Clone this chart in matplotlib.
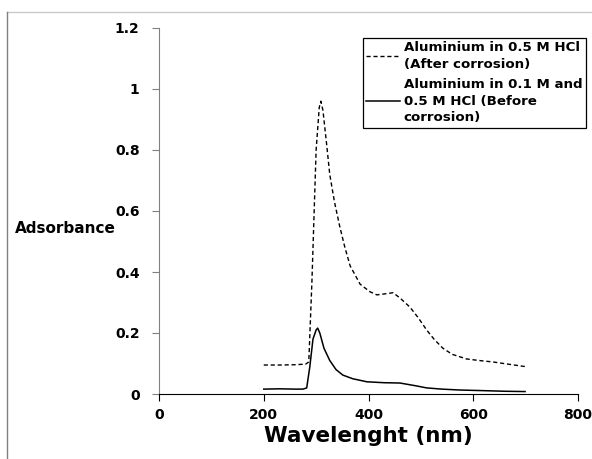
import matplotlib
matplotlib.use("Agg")
import matplotlib.pyplot as plt
from matplotlib.lines import Line2D

# UV-vis spectra
wl_after = [200, 230, 260, 280, 286, 292, 300, 306, 309, 313, 320, 326, 335, 345,
            355, 365, 384, 403, 416, 430, 447, 460, 479, 495, 511, 525, 542, 560,
            587, 610, 638, 670, 699]
abs_after = [0.095, 0.095, 0.096, 0.098, 0.105, 0.37, 0.80, 0.94, 0.96, 0.93, 0.82,
             0.72, 0.63, 0.55, 0.48, 0.42, 0.36, 0.335, 0.325, 0.328, 0.332, 0.315,
             0.285, 0.25, 0.21, 0.18, 0.15, 0.13, 0.115, 0.11, 0.105, 0.097, 0.09]

wl_before = [200, 230, 260, 275, 282, 288, 294, 300, 303, 307, 315, 326, 338, 351,
             370, 397, 430, 460, 490, 511, 540, 575, 620, 660, 699]
abs_before = [0.016, 0.017, 0.016, 0.016, 0.02, 0.09, 0.18, 0.21, 0.216, 0.2, 0.15,
              0.11, 0.08, 0.062, 0.05, 0.04, 0.037, 0.036, 0.027, 0.02, 0.016, 0.013,
              0.011, 0.009, 0.008]

xticks = [0, 200, 400, 600, 800]
yticks = [0, 0.2, 0.4, 0.6, 0.8, 1, 1.2]
ytick_labels = ["0", "0.2", "0.4", "0.6", "0.8", "1", "1.2"]

plt.rcParams["font.family"] = ["DejaVu Sans"]

fig = plt.figure(figsize=(5.92, 4.59), dpi=100)
ax = fig.add_axes([159 / 592, 1 - 394 / 459, (578 - 159) / 592, (394 - 28) / 459])

ax.plot(wl_after, abs_after, color="black", lw=1.0, ls=(0, (3, 2)),
        label="Aluminium in 0.5 M HCl\n(After corrosion)")
ax.plot(wl_before, abs_before, color="black", lw=1.1,
        label="Aluminium in 0.1 M and\n0.5 M HCl (Before\ncorrosion)")

ax.set_xlim(0, 800)
ax.set_ylim(0, 1.2)
ax.set_xticks(xticks)
ax.set_yticks(yticks)
ax.set_yticklabels(ytick_labels)
for s in ("top", "right"):
    ax.spines[s].set_visible(False)
ax.spines["left"].set_color("#808080")
ax.spines["bottom"].set_color("black")
ax.tick_params(axis="both", direction="out", length=5, width=0.8, labelsize=10)
ax.tick_params(axis="y", colors="#808080", labelcolor="black", pad=9)
ax.tick_params(axis="x", pad=5)
for t in ax.get_xticklabels() + ax.get_yticklabels():
    t.set_fontweight("bold")

ax.set_xlabel("Wavelenght (nm)", fontsize=15.5, fontweight="bold", labelpad=3)
fig.text(15 / 592, 1 - 229 / 459, "Adsorbance", fontsize=11, fontweight="bold",
         ha="left", va="center")

leg = ax.legend(loc="upper left", bbox_to_anchor=(363 / 592, 1 - 38 / 459),
                bbox_transform=fig.transFigure, fancybox=False, frameon=True,
                edgecolor="black", framealpha=1, handlelength=2.5, handletextpad=0.3,
                borderpad=0.25, labelspacing=0.55, borderaxespad=0,
                prop={"weight": "bold", "size": 9.6})
leg.get_frame().set_linewidth(0.9)
for t in leg.get_texts():
    t.set_linespacing(1.35)

# thin grey frame of the original chart area
fig.add_artist(Line2D([7 / 592, 1], [1 - 12 / 459, 1 - 12 / 459], color="#c8c8c8", lw=1.0))
fig.add_artist(Line2D([7 / 592, 7 / 592], [0, 1 - 12 / 459], color="#808080", lw=1.0))

fig.savefig("out.png", dpi=100)
